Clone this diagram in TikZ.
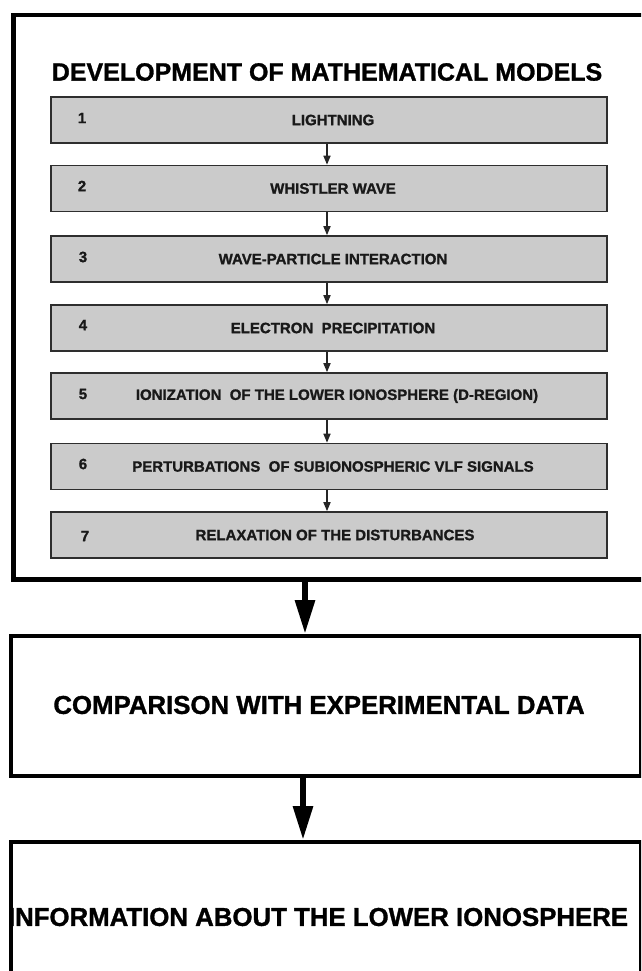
\documentclass[tikz,border=0pt]{standalone}
\usepackage{fontspec}
\setmainfont{Liberation Sans}
\newfontfamily\heavyfont{Liberation Sans}[BoldFeatures={FakeBold=1.2}]
\usetikzlibrary{arrows.meta,calc}
\definecolor{boxgray}{HTML}{CBCBCB}
\definecolor{edgegray}{HTML}{2E2E2E}
\tikzset{
  stepbox/.style={draw=edgegray, line width=1.6pt, fill=boxgray, minimum width=556pt, minimum height=46pt, inner sep=0pt,
    font=\heavyfont\fontsize{15}{17}\selectfont\bfseries, text=black!90},
  numlabel/.style={font=\heavyfont\fontsize{15}{17}\selectfont\bfseries, text=black!90, inner sep=0pt},
  bigtext/.style={font=\heavyfont\fontsize{25}{28}\selectfont\bfseries, inner sep=0pt},
  lowtext/.style={font=\heavyfont\fontsize{25.8}{28}\selectfont\bfseries, inner sep=0pt},
  bigbox/.style={draw=black, line width=4pt, minimum width=630pt, inner sep=0pt},
  smallarrow/.style={draw=black!85, line width=1.6pt, -{Triangle[length=9pt,width=7pt]}},
  bigarrow/.style={draw=black, line width=6pt, -{Triangle[length=34pt,width=19pt]}},
}
\begin{document}
\begin{tikzpicture}[x=1pt,y=-1pt]
\useasboundingbox (0,0) rectangle (641,971);
\clip (0,0) rectangle (641,971);
\fill[white] (0,0) rectangle (641,971);
% outer box
\node[draw=black, line width=4.5pt, minimum width=635pt, minimum height=564pt, inner sep=0pt, anchor=north west] (outer) at (11,13) {};
\node[bigtext] (title) at (327,72) {DEVELOPMENT OF MATHEMATICAL MODELS};
% steps
\node[stepbox] (b1) at (329,120) {\hspace*{8pt}LIGHTNING};
\node[stepbox] (b2) at (329,188.5) {\hspace*{8pt}WHISTLER WAVE};
\node[stepbox] (b3) at (329,259) {\hspace*{8pt}WAVE-PARTICLE INTERACTION};
\node[stepbox] (b4) at (329,328) {\hspace*{8pt}ELECTRON\ \ PRECIPITATION};
\node[stepbox] (b5) at (329,396) {\hspace*{16pt}IONIZATION\ \ OF THE LOWER IONOSPHERE (D-REGION)};
\node[stepbox] (b6) at (329,466.5) {\hspace*{8pt}PERTURBATIONS\ \ OF SUBIONOSPHERIC VLF SIGNALS};
\node[stepbox] (b7) at (329,535) {\hspace*{12pt}RELAXATION OF THE DISTURBANCES};
\node[numlabel] (n1) at (82,118) {1};
\node[numlabel] (n2) at (82,186) {2};
\node[numlabel] (n3) at (83,257) {3};
\node[numlabel] (n4) at (83,325) {4};
\node[numlabel] (n5) at (83,394) {5};
\node[numlabel] (n6) at (83,464) {6};
\node[numlabel] (n7) at (85,536) {7};
% small arrows
\coordinate (ax) at (327,0);
\draw[smallarrow] (b1.south -| ax) -- (b2.north -| ax);
\draw[smallarrow] (b2.south -| ax) -- (b3.north -| ax);
\draw[smallarrow] (b3.south -| ax) -- (b4.north -| ax);
\draw[smallarrow] (b4.south -| ax) -- (b5.north -| ax);
\draw[smallarrow] (b5.south -| ax) -- (b6.north -| ax);
\draw[smallarrow] (b6.south -| ax) -- (b7.north -| ax);
% lower boxes
\node[bigbox, minimum height=140pt, anchor=north west] (comp) at (9,634) {};
\node[lowtext] (comptext) at (319,705) {COMPARISON WITH EXPERIMENTAL DATA};
\node[bigbox, minimum height=160pt, anchor=north west] (info) at (9,840) {};
\node[lowtext] (infotext) at (318,917) {INFORMATION ABOUT THE LOWER IONOSPHERE};
% big arrows
\coordinate (bx1) at (305,0);
\coordinate (bx2) at (303,0);
\draw[bigarrow] (outer.south -| bx1) -- (comp.north -| bx1);
\draw[bigarrow] (comp.south -| bx2) -- (info.north -| bx2);
\end{tikzpicture}
\end{document}
